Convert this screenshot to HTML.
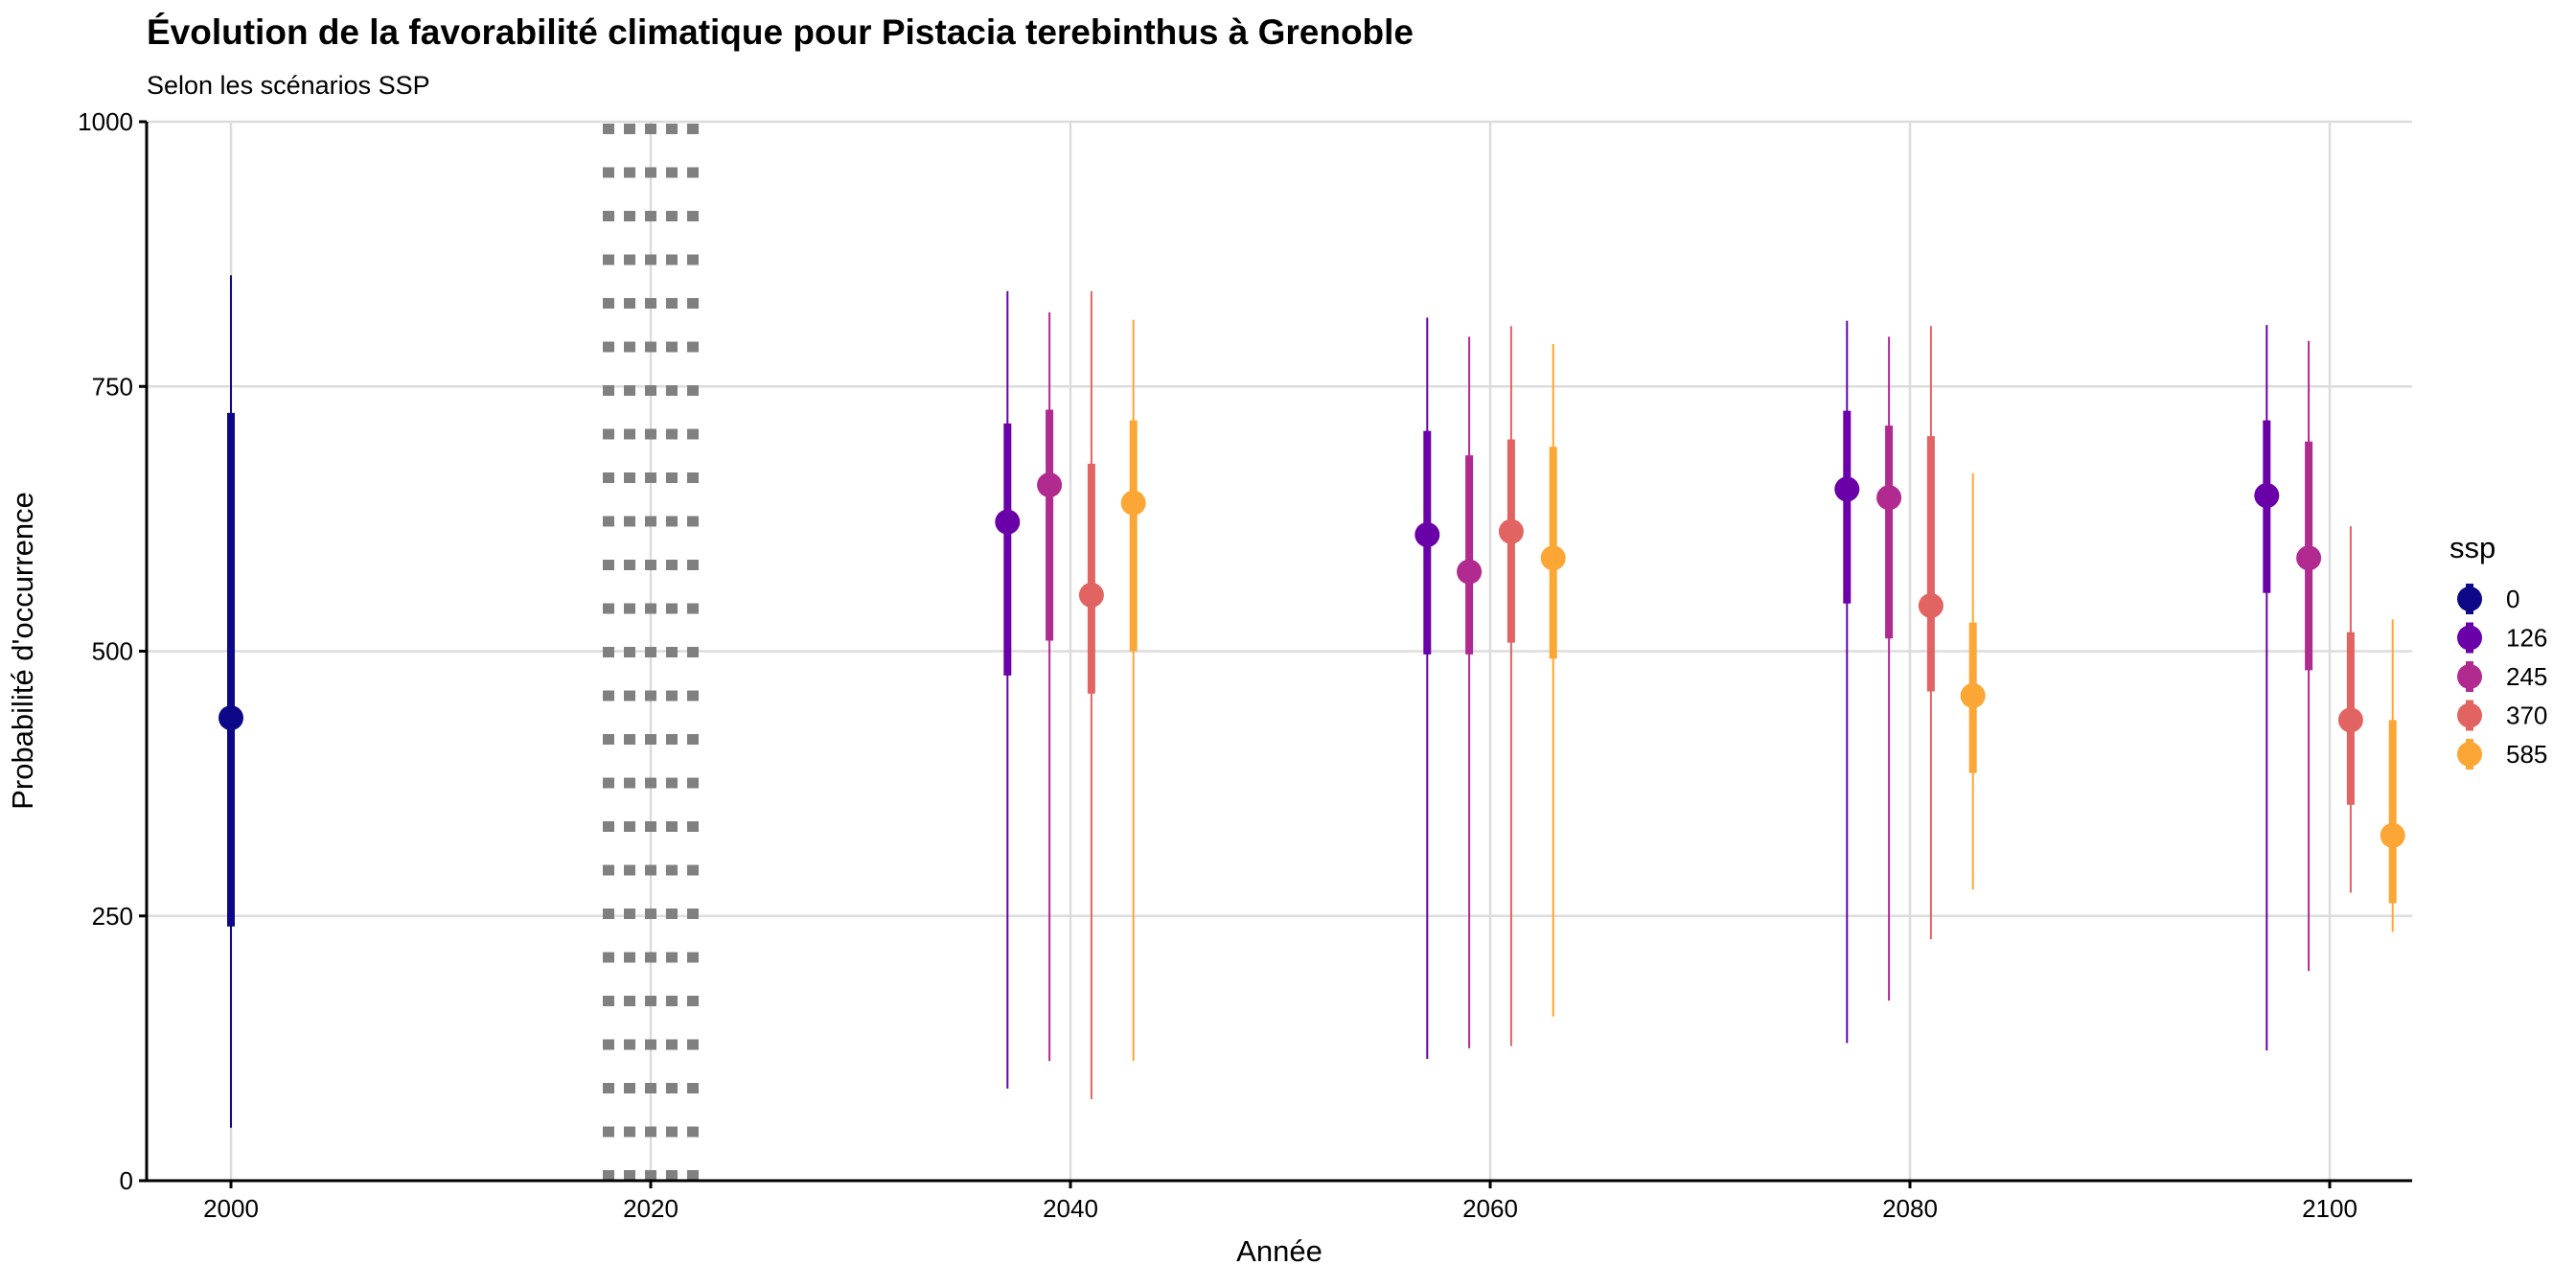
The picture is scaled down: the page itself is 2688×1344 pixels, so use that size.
<!DOCTYPE html>
<html><head><meta charset="utf-8"><style>
html,body{margin:0;padding:0;background:#fff;}
svg{display:block;font-family:"Liberation Sans",sans-serif;}
</style></head><body>
<svg id="chart" width="2688" height="1344" viewBox="0 0 2688 1344" xmlns="http://www.w3.org/2000/svg">
<text x="153" y="46" font-size="37" font-weight="bold">Évolution de la favorabilité climatique pour Pistacia terebinthus à Grenoble</text>
<text x="153" y="98" font-size="27">Selon les scénarios SSP</text>
<g id="grid"></g>
<g id="ref"></g>
<g id="marks"></g>
<g id="axes"></g>
<text x="34" y="679" font-size="31" text-anchor="middle" transform="rotate(-90 34 679)">Probabilité d'occurrence</text>
<text x="1335" y="1316" font-size="31" text-anchor="middle">Année</text>
<g id="legend"></g>
</svg>
<script>
const ssps = ['0','126','245','370','585'];
const colors = ['#0D0887','#6A00A8','#B12A90','#E16462','#FCA636'];
const pointYear = [2000, 2037,2039,2041,2043, 2057,2059,2061,2063, 2077,2079,2081,2083, 2097,2099,2101,2103];
const pointSsp = [0, 1,2,3,4, 1,2,3,4, 1,2,3,4, 1,2,3,4];
const meanVal = [437, 622,657,553,640, 610,575,613,588, 653,645,543,458, 647,588,435,326];
const innerLo = [240, 477,510,460,500, 497,497,508,493, 545,512,462,385, 555,482,355,262];
const innerHi = [725, 715,728,677,718, 708,685,700,693, 727,713,703,527, 718,698,518,435];
const outerLo = [50, 87,113,77,113, 115,125,127,155, 130,170,228,275, 123,198,272,235];
const outerHi = [855, 840,820,840,813, 815,797,807,790, 812,797,807,668, 808,793,618,530];
const xTicks = [2000,2020,2040,2060,2080,2100];
const yTicks = [0,250,500,750,1000];
const refYear = 2020;

const NS='http://www.w3.org/2000/svg';
const X0=153, X1=2517, Y0=1232, Y1=127;
const xs = y => 241 + (y-2000)*21.9;
const ys = v => Y0 - (v/1000)*(Y0-Y1);
function mk(tag, attrs, parent){const e=document.createElementNS(NS,tag);for(const k in attrs)e.setAttribute(k,attrs[k]);parent.appendChild(e);return e;}

const grid=document.getElementById('grid');
yTicks.forEach(v=>{
  const l=mk('line',{x1:X0,x2:X1,y1:ys(v),y2:ys(v),stroke:'#dcdcdc','stroke-width':2.5},grid);
  
  
});
xTicks.forEach(v=>{
  const l=mk('line',{x1:xs(v),x2:xs(v),y1:Y1,y2:Y0,stroke:'#dcdcdc','stroke-width':2.5},grid);
  
  
});

const ref=document.getElementById('ref');
const rc=xs(refYear);
for(let c=-2;c<=2;c++){
  for(let top=Y0-11; top>=Y1-5; top-=45.5){
    const t=Math.max(top,Y1);
    const r=mk('rect',{x:rc+c*22-6,y:t,width:12,height:Math.min(11,top+11-t),fill:'#808080'},ref);
    
    
  }
}

const marks=document.getElementById('marks');
pointYear.forEach((yr,i)=>{
  const x=xs(yr), col=colors[pointSsp[i]];
  const g=mk('g',{},marks);
  
  
  const a=mk('line',{x1:x,x2:x,y1:ys(outerLo[i]),y2:ys(outerHi[i]),stroke:col,'stroke-width':2},g);
  
  
  const b=mk('line',{x1:x,x2:x,y1:ys(innerLo[i]),y2:ys(innerHi[i]),stroke:col,'stroke-width':8},g);
  
  
  const c=mk('circle',{cx:x,cy:ys(meanVal[i]),r:13,fill:col},g);
  
  
});

const axes=document.getElementById('axes');
let al=mk('line',{x1:X0,x2:X0,y1:Y1,y2:Y0+1.5,stroke:'#000','stroke-width':3},axes);


al=mk('line',{x1:X0-1.5,x2:X1,y1:Y0,y2:Y0,stroke:'#000','stroke-width':3},axes);


yTicks.forEach(v=>{
  const tk=mk('line',{x1:X0-8,x2:X0,y1:ys(v),y2:ys(v),stroke:'#000','stroke-width':3},axes);
  
  
  const t=mk('text',{x:X0-14,y:ys(v)+9,'font-size':26,'text-anchor':'end'},axes);
  t.textContent=v;
  
  
});
xTicks.forEach(v=>{
  const tk=mk('line',{x1:xs(v),x2:xs(v),y1:Y0,y2:Y0+8,stroke:'#000','stroke-width':3},axes);
  
  
  const t=mk('text',{x:xs(v),y:1270,'font-size':26,'text-anchor':'middle'},axes);
  t.textContent=v;
  
  
});

const lg=document.getElementById('legend');
const lt=mk('text',{x:2556,y:582,'font-size':31},lg);
lt.textContent='ssp';


ssps.forEach((s,i)=>{
  const cy=625+i*40.5;
  const g=mk('g',{},lg);
  
  
  mk('line',{x1:2577,x2:2577,y1:cy-16,y2:cy+16,stroke:colors[i],'stroke-width':8},g);
  mk('circle',{cx:2577,cy:cy,r:13,fill:colors[i]},g);
  const t=mk('text',{x:2615,y:cy+9,'font-size':26},g);
  t.textContent=s;
  
  
});
</script>
</body></html>
